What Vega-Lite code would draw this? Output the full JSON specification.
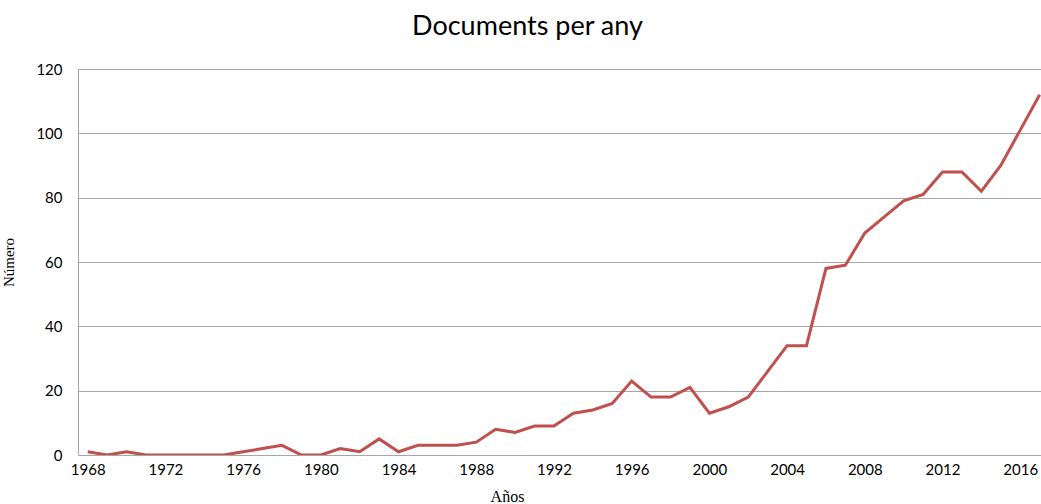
{
  "$schema": "https://vega.github.io/schema/vega-lite/v6.json",
  "autosize": "none",
  "width": 963,
  "height": 386,
  "padding": {"left": 78, "top": 69, "right": 0, "bottom": 49},
  "background": "white",
  "title": {"text": "Documents per any", "font": "Lato", "fontSize": 27, "fontWeight": "normal", "color": "#000000", "anchor": "middle", "dx": -32, "offset": 21},
  "data": {"values": [
    {"year": 1968, "n": 1}, {"year": 1969, "n": 0}, {"year": 1970, "n": 1}, {"year": 1971, "n": 0},
    {"year": 1972, "n": 0}, {"year": 1973, "n": 0}, {"year": 1974, "n": 0}, {"year": 1975, "n": 0},
    {"year": 1976, "n": 1}, {"year": 1977, "n": 2}, {"year": 1978, "n": 3}, {"year": 1979, "n": 0},
    {"year": 1980, "n": 0}, {"year": 1981, "n": 2}, {"year": 1982, "n": 1}, {"year": 1983, "n": 5},
    {"year": 1984, "n": 1}, {"year": 1985, "n": 3}, {"year": 1986, "n": 3}, {"year": 1987, "n": 3},
    {"year": 1988, "n": 4}, {"year": 1989, "n": 8}, {"year": 1990, "n": 7}, {"year": 1991, "n": 9},
    {"year": 1992, "n": 9}, {"year": 1993, "n": 13}, {"year": 1994, "n": 14}, {"year": 1995, "n": 16},
    {"year": 1996, "n": 23}, {"year": 1997, "n": 18}, {"year": 1998, "n": 18}, {"year": 1999, "n": 21},
    {"year": 2000, "n": 13}, {"year": 2001, "n": 15}, {"year": 2002, "n": 18}, {"year": 2003, "n": 26},
    {"year": 2004, "n": 34}, {"year": 2005, "n": 34}, {"year": 2006, "n": 58}, {"year": 2007, "n": 59},
    {"year": 2008, "n": 69}, {"year": 2009, "n": 74}, {"year": 2010, "n": 79}, {"year": 2011, "n": 81},
    {"year": 2012, "n": 88}, {"year": 2013, "n": 88}, {"year": 2014, "n": 82}, {"year": 2015, "n": 90},
    {"year": 2016, "n": 101}, {"year": 2017, "n": 112}
  ]},
  "mark": {"type": "line", "color": "#c0504d", "strokeWidth": 3, "clip": true},
  "encoding": {
    "x": {
      "field": "year", "type": "quantitative",
      "scale": {"domain": [1967.5, 2017.07], "nice": false, "zero": false},
      "axis": {
        "values": [1968, 1972, 1976, 1980, 1984, 1988, 1992, 1996, 2000, 2004, 2008, 2012, 2016],
        "format": "d", "grid": false, "ticks": false, "domain": false,
        "labelFont": "Lato", "labelFontSize": 15, "labelColor": "#000000", "labelPadding": 7,
        "title": "Años", "titleFont": "Liberation Serif", "titleFontSize": 16, "titleFontWeight": "normal",
        "titleColor": "#000000", "titlePadding": 11, "titleX": 429, "titleAnchor": "middle"
      }
    },
    "y": {
      "field": "n", "type": "quantitative",
      "scale": {"domain": [0, 120], "nice": false},
      "axis": {
        "values": [0, 20, 40, 60, 80, 100, 120], "grid": true, "gridColor": "#a6a6a6", "gridWidth": 1,
        "ticks": false, "domain": true, "domainColor": "#a6a6a6", "domainWidth": 1,
        "labelFont": "Lato", "labelFontSize": 15, "labelColor": "#000000", "labelPadding": 16,
        "title": "Número", "titleFont": "Liberation Serif", "titleFontSize": 15, "titleFontWeight": "normal",
        "titleColor": "#000000", "titlePadding": 19
      }
    }
  },
  "config": {"view": {"stroke": null}}
}
